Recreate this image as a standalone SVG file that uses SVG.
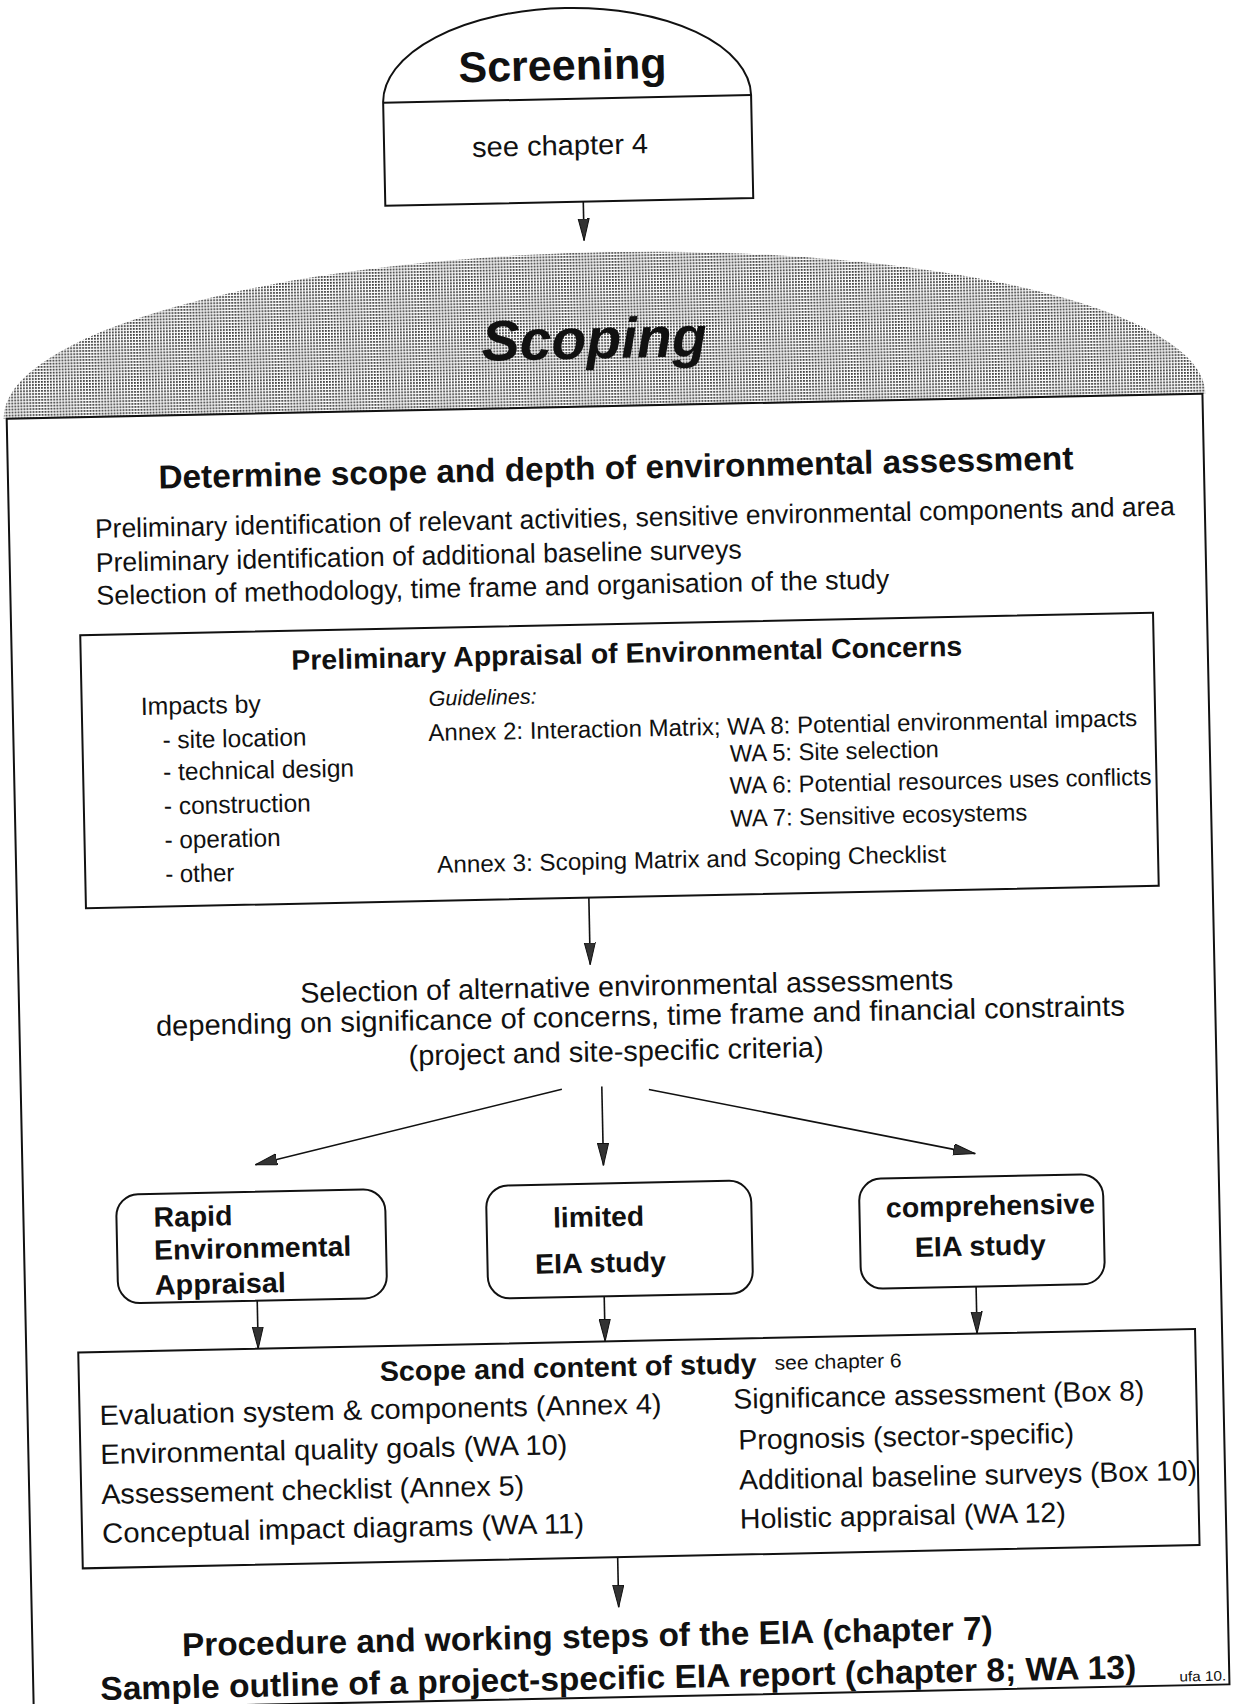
<svg xmlns="http://www.w3.org/2000/svg" width="1238" height="1704" viewBox="0 0 1238 1704">
<style>
.t{font-family:"Liberation Sans",Arial,Helvetica,sans-serif;fill:#111}
.b{font-weight:bold}
.c{text-anchor:middle}
.box{fill:none;stroke:#111;stroke-width:2}
.rbox{fill:#fff;stroke:#111;stroke-width:2}
.conn{stroke:#111;stroke-width:1.6;fill:none;marker-end:url(#ah)}
</style>
<defs>
<marker id="ah" markerUnits="userSpaceOnUse" markerWidth="24" markerHeight="14" refX="22" refY="6" orient="auto"><path d="M0,0.5 L22,6 L0,11.5 z" fill="#333" stroke="#111" stroke-width="1"/></marker>
<pattern id="stip" width="3" height="3" patternUnits="userSpaceOnUse"><rect width="3" height="3" fill="#fff"/><rect width="1.8" height="1.8" fill="#3a3a3a"/></pattern>
</defs>
<rect width="1238" height="1704" fill="#fff"/>
<g transform="rotate(-1.2 620 1000)">
  <g id="screening">
    <path class="box" d="M402,98 A184,91 0 0 1 770,98 L770,201 L402,201 Z"/>
    <line x1="402" y1="98" x2="770" y2="98" stroke="#111" stroke-width="2"/>
    <text class="t b c" x="582" y="79" font-size="43" textLength="208" lengthAdjust="spacingAndGlyphs">Screening</text>
    <text class="t c" x="578" y="154" font-size="28" textLength="176" lengthAdjust="spacingAndGlyphs">see chapter 4</text>
  </g>
  <g id="scoping">
    <path d="M16,406 A601,154 0 0 1 1218,406 Z" fill="url(#stip)"/>
    <rect class="box" x="19" y="406" width="1196" height="1291"/>
    <text class="t b c" x="608" y="358" font-size="57" font-style="italic" textLength="225" lengthAdjust="spacingAndGlyphs">Scoping</text>
    <text class="t b c" x="627" y="479" font-size="33" textLength="915" lengthAdjust="spacingAndGlyphs">Determine scope and depth of environmental assessment</text>
    <text class="t" x="105" y="527" font-size="27" textLength="1080" lengthAdjust="spacingAndGlyphs">Preliminary identification of relevant activities, sensitive environmental components and area</text>
    <text class="t" x="105" y="561" font-size="27" textLength="646" lengthAdjust="spacingAndGlyphs">Preliminary identification of additional baseline surveys</text>
    <text class="t" x="105" y="594" font-size="27" textLength="793" lengthAdjust="spacingAndGlyphs">Selection of methodology, time frame and organisation of the study</text>
  </g>
  <g id="preliminary-appraisal">
    <rect class="box" x="88" y="624" width="1073" height="273"/>
    <text class="t b c" x="634" y="663" font-size="28" textLength="671" lengthAdjust="spacingAndGlyphs">Preliminary Appraisal of Environmental Concerns</text>
    <text class="t" x="147" y="705" font-size="25" textLength="120" lengthAdjust="spacingAndGlyphs">Impacts by</text>
    <text class="t" x="168" y="739" font-size="25" textLength="144" lengthAdjust="spacingAndGlyphs">- site location</text>
    <text class="t" x="168" y="771" font-size="25" textLength="191" lengthAdjust="spacingAndGlyphs">- technical design</text>
    <text class="t" x="168" y="805" font-size="25" textLength="147" lengthAdjust="spacingAndGlyphs">- construction</text>
    <text class="t" x="168" y="839" font-size="25" textLength="116" lengthAdjust="spacingAndGlyphs">- operation</text>
    <text class="t" x="168" y="873" font-size="25" textLength="69" lengthAdjust="spacingAndGlyphs">- other</text>
    <text class="t" x="435" y="702" font-size="21.5" font-style="italic" textLength="108" lengthAdjust="spacingAndGlyphs">Guidelines:</text>
    <text class="t" x="434" y="737" font-size="24" textLength="709" lengthAdjust="spacingAndGlyphs">Annex 2: Interaction Matrix; WA 8: Potential environmental impacts</text>
    <text class="t" x="735" y="764" font-size="24" textLength="209" lengthAdjust="spacingAndGlyphs">WA 5: Site selection</text>
    <text class="t" x="734" y="796" font-size="24" textLength="422" lengthAdjust="spacingAndGlyphs">WA 6: Potential resources uses conflicts</text>
    <text class="t" x="734" y="829" font-size="24" textLength="297" lengthAdjust="spacingAndGlyphs">WA 7: Sensitive ecosystems</text>
    <text class="t" x="440" y="869" font-size="24" textLength="509" lengthAdjust="spacingAndGlyphs">Annex 3: Scoping Matrix and Scoping Checklist</text>
  </g>
  <g id="selection">
    <text class="t c" x="627" y="996" font-size="28.5" textLength="653" lengthAdjust="spacingAndGlyphs">Selection of alternative environmental assessments</text>
    <text class="t c" x="640" y="1026" font-size="28.5" textLength="969" lengthAdjust="spacingAndGlyphs">depending on significance of concerns, time frame and financial constraints</text>
    <text class="t c" x="615" y="1061" font-size="28.5" textLength="415" lengthAdjust="spacingAndGlyphs">(project and site-specific criteria)</text>
  </g>
  <g id="rapid">
    <rect class="rbox" x="112" y="1184" width="269" height="109" rx="22"/>
    <text class="t b" x="149" y="1217" font-size="28" textLength="79" lengthAdjust="spacingAndGlyphs">Rapid</text>
    <text class="t b" x="149" y="1250" font-size="28" textLength="197" lengthAdjust="spacingAndGlyphs">Environmental</text>
    <text class="t b" x="149" y="1285" font-size="28" textLength="131" lengthAdjust="spacingAndGlyphs">Appraisal</text>
  </g>
  <g id="limited">
    <rect class="rbox" x="482" y="1183" width="265" height="113" rx="22"/>
    <text class="t b c" x="594" y="1226" font-size="28" textLength="91" lengthAdjust="spacingAndGlyphs">limited</text>
    <text class="t b c" x="595" y="1272" font-size="28" textLength="131" lengthAdjust="spacingAndGlyphs">EIA study</text>
  </g>
  <g id="comprehensive">
    <rect class="rbox" x="855" y="1184" width="244" height="110" rx="22"/>
    <text class="t b c" x="986" y="1223" font-size="28" textLength="209" lengthAdjust="spacingAndGlyphs">comprehensive</text>
    <text class="t b c" x="975" y="1263" font-size="28" textLength="131" lengthAdjust="spacingAndGlyphs">EIA study</text>
  </g>
  <g id="scope-content">
    <rect class="box" x="71" y="1341" width="1117" height="216"/>
    <text class="t b" x="372" y="1376" font-size="28" textLength="377" lengthAdjust="spacingAndGlyphs">Scope and content of study</text>
    <text class="t" x="767" y="1373" font-size="20" textLength="127" lengthAdjust="spacingAndGlyphs">see chapter 6</text>
    <text class="t" x="91" y="1414" font-size="28" textLength="562" lengthAdjust="spacingAndGlyphs">Evaluation system &amp; components (Annex 4)</text>
    <text class="t" x="91" y="1453" font-size="28" textLength="467" lengthAdjust="spacingAndGlyphs">Environmental quality goals (WA 10)</text>
    <text class="t" x="91" y="1493" font-size="28" textLength="423" lengthAdjust="spacingAndGlyphs">Assessement checklist (Annex 5)</text>
    <text class="t" x="91" y="1532" font-size="28" textLength="482" lengthAdjust="spacingAndGlyphs">Conceptual impact diagrams (WA 11)</text>
    <text class="t" x="725" y="1411" font-size="28" textLength="411" lengthAdjust="spacingAndGlyphs">Significance assessment (Box 8)</text>
    <text class="t" x="729" y="1452" font-size="28" textLength="336" lengthAdjust="spacingAndGlyphs">Prognosis (sector-specific)</text>
    <text class="t" x="729" y="1492" font-size="28" textLength="458" lengthAdjust="spacingAndGlyphs">Additional baseline surveys (Box 10)</text>
    <text class="t" x="729" y="1531" font-size="28" textLength="326" lengthAdjust="spacingAndGlyphs">Holistic appraisal (WA 12)</text>
  </g>
  <g id="outcome">
    <text class="t b c" x="574" y="1647" font-size="33" textLength="811" lengthAdjust="spacingAndGlyphs">Procedure and working steps of the EIA (chapter 7)</text>
    <text class="t b c" x="604" y="1689" font-size="33" textLength="1036" lengthAdjust="spacingAndGlyphs">Sample outline of a project-specific EIA report (chapter 8; WA 13)</text>
    <text class="t" x="1165" y="1693" font-size="14" textLength="47" lengthAdjust="spacingAndGlyphs">ufa 10.</text>
  </g>
  <g id="connectors">
    <line class="conn" x1="600" y1="201" x2="600" y2="240"/>
    <line class="conn" x1="591" y1="897" x2="591" y2="964"/>
    <line class="conn" x1="600" y1="1086" x2="600" y2="1165"/>
    <line class="conn" x1="560" y1="1088" x2="252" y2="1157"/>
    <line class="conn" x1="647" y1="1090" x2="972" y2="1161"/>
    <line class="conn" x1="251" y1="1293" x2="251" y2="1341"/>
    <line class="conn" x1="598" y1="1296" x2="598" y2="1341"/>
    <line class="conn" x1="970" y1="1294" x2="970" y2="1341"/>
    <line class="conn" x1="606" y1="1557" x2="606" y2="1607"/>
  </g>
</g>
</svg>
